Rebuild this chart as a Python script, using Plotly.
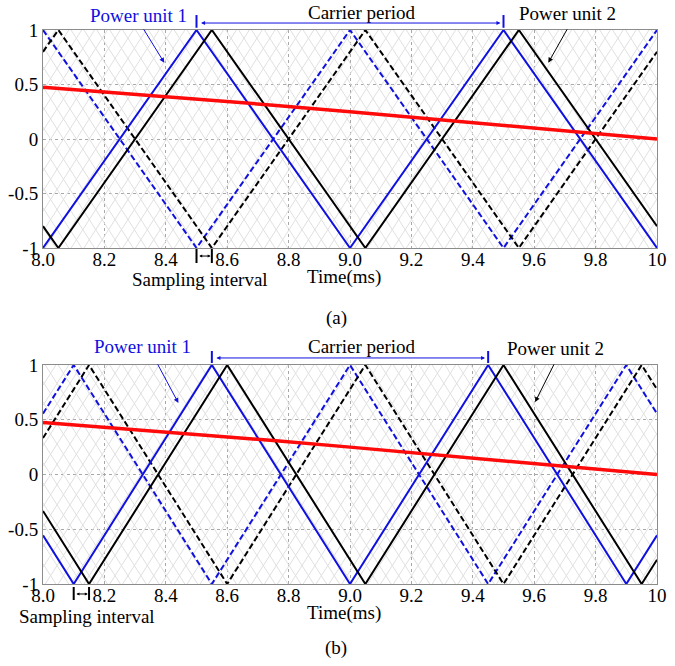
import plotly.graph_objects as go

# ---------------- data ----------------
# panel (a): carrier period 1.0 ms
a_blue_solid_t = [8.0, 8.5, 9.0, 9.5, 10.0]
a_blue_solid_v = [-1, 1, -1, 1, -1]
a_black_solid_t = [8.0, 8.05, 8.55, 9.05, 9.55, 10.0]
a_black_solid_v = [-0.8, -1, 1, -1, 1, -0.8]
a_blue_dash_t = [8.0, 8.5, 9.0, 9.5, 10.0]
a_blue_dash_v = [1, -1, 1, -1, 1]
a_black_dash_t = [8.0, 8.05, 8.55, 9.05, 9.55, 10.0]
a_black_dash_v = [0.8, 1, -1, 1, -1, 0.8]

# panel (b): carrier period 0.9 ms
b_blue_solid_t = [8.0, 8.1, 8.55, 9.0, 9.45, 9.9, 10.0]
b_blue_solid_v = [-0.556, -1, 1, -1, 1, -1, -0.556]
b_black_solid_t = [8.0, 8.15, 8.6, 9.05, 9.5, 9.95, 10.0]
b_black_solid_v = [-0.333, -1, 1, -1, 1, -1, -0.778]
b_blue_dash_t = [8.0, 8.1, 8.55, 9.0, 9.45, 9.9, 10.0]
b_blue_dash_v = [0.556, 1, -1, 1, -1, 1, 0.556]
b_black_dash_t = [8.0, 8.15, 8.6, 9.05, 9.5, 9.95, 10.0]
b_black_dash_v = [0.333, 1, -1, 1, -1, 1, 0.778]

# modulation (reference) wave, same in both panels
ref_t = [8.0, 8.25, 8.5, 8.75, 9.0, 9.25, 9.5, 9.75, 10.0]
ref_v = [0.476, 0.423, 0.368, 0.310, 0.250, 0.189, 0.127, 0.064, 0.0]

x_tickvals = [8.0, 8.2, 8.4, 8.6, 8.8, 9.0, 9.2, 9.4, 9.6, 9.8, 10.0]
x_ticktext = ["8.0", "8.2", "8.4", "8.6", "8.8", "9.0", "9.2", "9.4", "9.6", "9.8", "10"]
y_tickvals = [1, 0.5, 0, -0.5, -1]
y_ticktext = ["1", "0.5", "0", "-0.5", "-1"]

# ---------------- style ----------------
FONT = "Liberation Serif"
BLUE = "#1010e0"
BLACK = "#000000"
RED = "#ff0a0a"
HATCH = "#e0e0e0"
FRAME = "#8c8c8c"
TXT = 19


def hatch(x0, x1, y0, y1, dx, slope):
    """decorative diamond background texture"""
    xs, ys = [], []
    H = y1 - y0
    w = H / slope
    for sign in (1, -1):
        c = x0 - w - dx
        while c < x1 + dx:
            xa, xb = max(c, x0), min(c + w, x1)
            if xa < xb:
                if sign == 1:
                    ya = y0 + slope * (xa - c)
                    yb = y0 + slope * (xb - c)
                else:
                    ya = y1 - slope * (xa - c)
                    yb = y1 - slope * (xb - c)
                xs += [xa, xb, None]
                ys += [ya, yb, None]
            c += dx
    return xs, ys


fig = go.Figure()

panels = [
    ("x", "y", (a_blue_solid_t, a_blue_solid_v), (a_black_solid_t, a_black_solid_v),
     (a_blue_dash_t, a_blue_dash_v), (a_black_dash_t, a_black_dash_v)),
    ("x2", "y2", (b_blue_solid_t, b_blue_solid_v), (b_black_solid_t, b_black_solid_v),
     (b_blue_dash_t, b_blue_dash_v), (b_black_dash_t, b_black_dash_v)),
]

for xa, ya, bs, ks, bd, kd in panels:
    hx, hy = hatch(8.0, 10.0, -1.0, 1.0, 0.042, 4.4)
    fig.add_trace(go.Scatter(x=hx, y=hy, xaxis=xa, yaxis=ya, mode="lines",
                             line=dict(color=HATCH, width=1), hoverinfo="skip",
                             showlegend=False))
    fig.add_trace(go.Scatter(x=bd[0], y=bd[1], xaxis=xa, yaxis=ya, mode="lines",
                             line=dict(color=BLUE, width=2, dash="6px,3px"), showlegend=False))
    fig.add_trace(go.Scatter(x=kd[0], y=kd[1], xaxis=xa, yaxis=ya, mode="lines",
                             line=dict(color=BLACK, width=2, dash="6px,3px"), showlegend=False))
    fig.add_trace(go.Scatter(x=bs[0], y=bs[1], xaxis=xa, yaxis=ya, mode="lines",
                             line=dict(color=BLUE, width=2), showlegend=False))
    fig.add_trace(go.Scatter(x=ks[0], y=ks[1], xaxis=xa, yaxis=ya, mode="lines",
                             line=dict(color=BLACK, width=2), showlegend=False))
    fig.add_trace(go.Scatter(x=ref_t, y=ref_v, xaxis=xa, yaxis=ya, mode="lines",
                             line=dict(color=RED, width=3.5), showlegend=False))

axis_common = dict(showline=True, mirror=True, linecolor=FRAME, linewidth=1,
                   showgrid=True, gridcolor="#a8a8a8", griddash="dot", gridwidth=1,
                   zeroline=False, ticks="", ticklabeloverflow="allow",
                   tickfont=dict(family=FONT, size=19, color="black"))
xaxis_common = dict(axis_common, ticklabelstandoff=-6, range=[8, 10],
                    tickvals=x_tickvals, ticktext=x_ticktext)
yaxis_common = dict(axis_common, range=[-1, 1], tickvals=y_tickvals, ticktext=y_ticktext)

fig.update_layout(
    width=675, height=666,
    margin=dict(l=38, r=8, t=30, b=82),
    paper_bgcolor="white", plot_bgcolor="white",
    font=dict(family=FONT),
    xaxis=dict(domain=[0, 1], anchor="y", **xaxis_common),
    yaxis=dict(domain=[0.6065, 1], anchor="x", **yaxis_common),
    xaxis2=dict(domain=[0, 1], anchor="y2", **xaxis_common),
    yaxis2=dict(domain=[0, 0.3953], anchor="x2", **yaxis_common),
    showlegend=False,
)

ann = []
shapes = []


def txt(x, y, s, color="black", xref="x"):
    ann.append(dict(x=x, y=y, xref=xref, yref="paper", text=s, showarrow=False,
                    font=dict(family=FONT, size=TXT, color=color),
                    xanchor="center", yanchor="middle"))


def arrow(x, y, ax, ay, color, xref, yref, both=False, size=1.0):
    d = dict(x=x, y=y, xref=xref, yref=yref, axref=xref,
             text="", showarrow=True, arrowcolor=color, arrowwidth=1,
             arrowhead=2, arrowsize=size,
             startarrowhead=2, startarrowsize=size,
             arrowside="end+start" if both else "end")
    if yref == "paper":
        d["ax"] = ax
        d["ay"] = 0
        d["ayref"] = "pixel"
    else:
        d["ax"] = ax
        d["ay"] = ay
        d["ayref"] = yref
    ann.append(d)


def vbar(x, y0, y1, color, xref):
    shapes.append(dict(type="line", xref=xref, yref="paper", x0=x, x1=x, y0=y0, y1=y1,
                       line=dict(color=color, width=2)))


# ---- panel (a) ----
txt(8.31, 1.027, "Power unit 1", BLUE)
arrow(8.395, 0.70, 8.325, 1.02, BLUE, "x", "y")
txt(9.04, 1.031, "Carrier period")
arrow(9.49, 1.0126, 8.51, None, BLUE, "x", "paper", both=True, size=0.8)
vbar(8.5, 1.004, 1.027, BLUE, "x")
vbar(9.5, 1.004, 1.027, BLUE, "x")
txt(9.71, 1.029, "Power unit 2")
arrow(9.646, 0.70, 9.71, 1.02, BLACK, "x", "y")
vbar(8.5, 0.5794, 0.6047, BLACK, "x")
vbar(8.55, 0.5794, 0.6047, BLACK, "x")
arrow(8.546, 0.592, 8.504, None, BLACK, "x", "paper", both=True, size=0.6)
txt(8.51, 0.5505, "Sampling interval")
txt(8.98, 0.5545, "Time(ms)")
txt(8.955, 0.480, "(a)")

# ---- panel (b) ----
txt(8.325, 0.4296, "Power unit 1", BLUE, xref="x2")
arrow(8.441, 0.653, 8.371, 1.02, BLUE, "x2", "y2")
txt(9.04, 0.4278, "Carrier period", xref="x2")
arrow(9.44, 0.408, 8.56, None, BLUE, "x2", "paper", both=True, size=0.8)
vbar(8.55, 0.3989, 0.4206, BLUE, "x2")
vbar(9.45, 0.3989, 0.4206, BLUE, "x2")
txt(9.67, 0.4242, "Power unit 2", xref="x2")
arrow(9.603, 0.662, 9.667, 1.02, BLACK, "x2", "y2")
vbar(8.1, -0.0289, -0.0054, BLACK, "x2")
vbar(8.15, -0.0289, -0.0054, BLACK, "x2")
arrow(8.146, -0.018, 8.104, None, BLACK, "x2", "paper", both=True, size=0.6)
txt(8.144, -0.058, "Sampling interval", xref="x2")
txt(8.98, -0.053, "Time(ms)", xref="x2")
txt(8.955, -0.1155, "(b)", xref="x2")

fig.update_layout(annotations=ann, shapes=shapes)

fig.write_html("out.html")
